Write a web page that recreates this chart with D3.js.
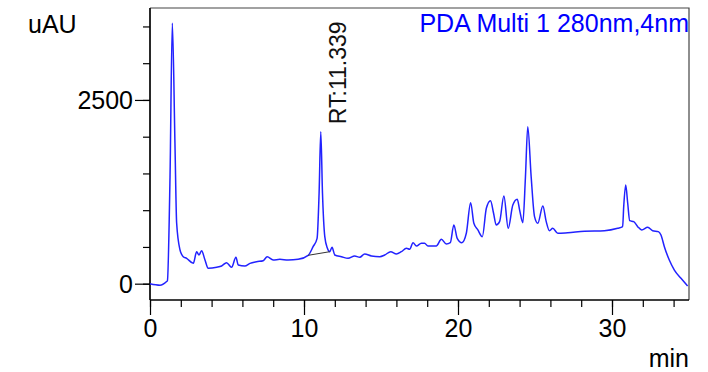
<!DOCTYPE html>
<html>
<head>
<meta charset="utf-8">
<script src="https://cdn.jsdelivr.net/npm/d3@7"></script>
<style>
  body { margin: 0; background: #fff; }
  text { font-family: "Liberation Sans", Arial, sans-serif; }
</style>
</head>
<body>
<div id="chart"></div>
<script>
// Chromatogram trace (time in min, signal in uAU)
const times = [0.00, 0.65, 1.08, 1.13, 1.30, 1.45, 1.62, 1.73, 1.95, 2.05, 2.16, 2.38, 2.81, 3.03, 3.18, 3.35,
  3.57, 3.78, 4.33, 4.65, 4.97, 5.30, 5.58, 5.73, 6.16, 6.49, 6.92, 7.35, 7.61, 8.00, 8.43, 8.97, 9.62,
  10.27, 10.59, 10.85, 10.98, 11.09, 11.20, 11.35, 11.52, 11.67, 11.82, 12.00, 12.43, 12.86, 13.29, 13.62,
  13.94, 14.38, 14.92, 15.24, 15.63, 16.00, 16.32, 16.65, 16.86, 17.08, 17.30, 17.62, 17.83, 18.05, 18.59,
  18.92, 19.24, 19.50, 19.73, 19.95, 20.25, 20.54, 20.82, 21.03, 21.29, 21.58, 21.84, 22.11, 22.31, 22.48,
  22.70, 22.98, 23.26, 23.56, 23.85, 24.00, 24.21, 24.38, 24.53, 24.75, 24.97, 25.18, 25.51, 25.73, 25.94,
  26.15, 26.48, 27.13, 28.21, 29.51, 30.37, 30.69, 30.76, 30.89, 31.02, 31.15, 31.41, 31.67, 31.93, 32.32,
  32.64, 33.01, 33.18, 33.40, 33.72, 34.05, 34.48, 34.91];
const signal = [0, -20, 30, 40, 1450, 3543, 1914, 825, 458, 400, 367, 345, 277, 435, 390, 449,
  322, 209, 223, 241, 286, 223, 359, 254, 241, 277, 299, 313, 367, 322, 332, 322, 332,
  386, 503, 617, 1230, 2068, 1234, 640, 481, 435, 495, 390, 367, 345, 377, 359,
  404, 377, 367, 390, 435, 404, 435, 481, 468, 558, 513, 550, 550, 513, 513,
  604, 540, 558, 799, 617, 558, 686, 1102, 822, 731, 640, 1026, 1130, 958, 799,
  844, 1193, 754, 1071, 1148, 1003, 830, 1456, 2136, 1456, 912, 822, 1057, 844, 721,
  754, 686, 694, 713, 721, 754, 776, 1048, 1343, 1094, 857, 844, 776, 731, 767,
  721, 708, 662, 503, 322, 186, 73, -31];

// integration baseline under the marked peak
const peakBaseT = [10.27, 11.67];
const peakBaseV = [386, 435];
const peakLabel = "RT:11.339";

const xMajorTicks = [0, 10, 20, 30];
const yMajorTicks = [0, 2500];
const xLabel = "min";
const yLabel = "uAU";
const legendText = "PDA Multi 1 280nm,4nm";

const width = 708;
const height = 372;
const margin = { top: 8, right: 19, bottom: 72, left: 150 };
const chartWidth = width - margin.left - margin.right;
const chartHeight = height - margin.top - margin.bottom;

const data = times.map((t, i) => ({ t: t, v: signal[i] }));

const svg = d3.select("#chart")
    .append("svg")
    .attr("width", width)
    .attr("height", height);

const chart = svg.append("g")
    .attr("transform", `translate(${margin.left}, ${margin.top})`);

const xScale = d3.scaleLinear()
    .domain([0, 35])
    .range([0, chartWidth]);

const yScale = d3.scaleLinear()
    .domain([-222, 3751])
    .range([chartHeight, 0]);

// frame (top and right)
chart.append("path")
    .attr("d", `M0,0H${chartWidth}V${chartHeight}`)
    .attr("fill", "none")
    .attr("stroke", "#444")
    .attr("stroke-width", 1.2);

// axes: minor ticks first, then labelled major ticks
const xMinor = d3.axisBottom(xScale).tickValues(d3.range(0, 35, 2)).tickSize(7).tickFormat("");
const xMajor = d3.axisBottom(xScale).tickValues(xMajorTicks).tickSize(15).tickPadding(4).tickFormat(d3.format("d"));
const yMinor = d3.axisLeft(yScale).tickValues(d3.range(0, 3600, 500)).tickSize(7).tickFormat("");
const yMajor = d3.axisLeft(yScale).tickValues(yMajorTicks).tickSize(15).tickPadding(2).tickFormat(d3.format("d"));

[xMinor, xMajor].forEach(ax => {
    chart.append("g")
        .attr("transform", `translate(0, ${chartHeight})`)
        .call(ax)
        .call(g => g.select(".domain").attr("stroke-width", 1.2).attr("d", `M0,0H${chartWidth}`))
        .selectAll("text")
        .style("font-size", "25px")
        .attr("fill", "#000");
});

[yMinor, yMajor].forEach(ax => {
    chart.append("g")
        .call(ax)
        .call(g => g.select(".domain").attr("stroke-width", 1.2).attr("d", `M0,0V${chartHeight}`))
        .selectAll("text")
        .style("font-size", "25px")
        .attr("dy", "0.36em")
        .attr("fill", "#000");
});

chart.selectAll(".tick line").attr("stroke-width", 1.2);

// signal trace
const line = d3.line()
    .x(d => xScale(d.t))
    .y(d => yScale(d.v))
    .curve(d3.curveMonotoneX);

chart.append("path")
    .datum(data)
    .attr("fill", "none")
    .attr("stroke", "#2222ff")
    .attr("stroke-width", 1.5)
    .attr("d", line);

// peak baseline + retention time label
chart.append("line")
    .attr("x1", xScale(peakBaseT[0]))
    .attr("y1", yScale(peakBaseV[0]))
    .attr("x2", xScale(peakBaseT[1]))
    .attr("y2", yScale(peakBaseV[1]))
    .attr("stroke", "#333")
    .attr("stroke-width", 1);

chart.append("text")
    .attr("transform", `translate(${xScale(12.75)}, ${yScale(2170)}) rotate(-90)`)
    .style("font-size", "23px")
    .attr("fill", "#111")
    .text(peakLabel);

// legend and axis titles
svg.append("text")
    .attr("x", margin.left + chartWidth)
    .attr("y", 32)
    .attr("text-anchor", "end")
    .style("font-size", "25px")
    .attr("fill", "#0000ff")
    .text(legendText);

svg.append("text")
    .attr("x", 28)
    .attr("y", 33)
    .style("font-size", "25px")
    .attr("fill", "#000")
    .text(yLabel);

svg.append("text")
    .attr("x", margin.left + chartWidth)
    .attr("y", 367)
    .attr("text-anchor", "end")
    .style("font-size", "25px")
    .attr("fill", "#000")
    .text(xLabel);
</script>
</body>
</html>
